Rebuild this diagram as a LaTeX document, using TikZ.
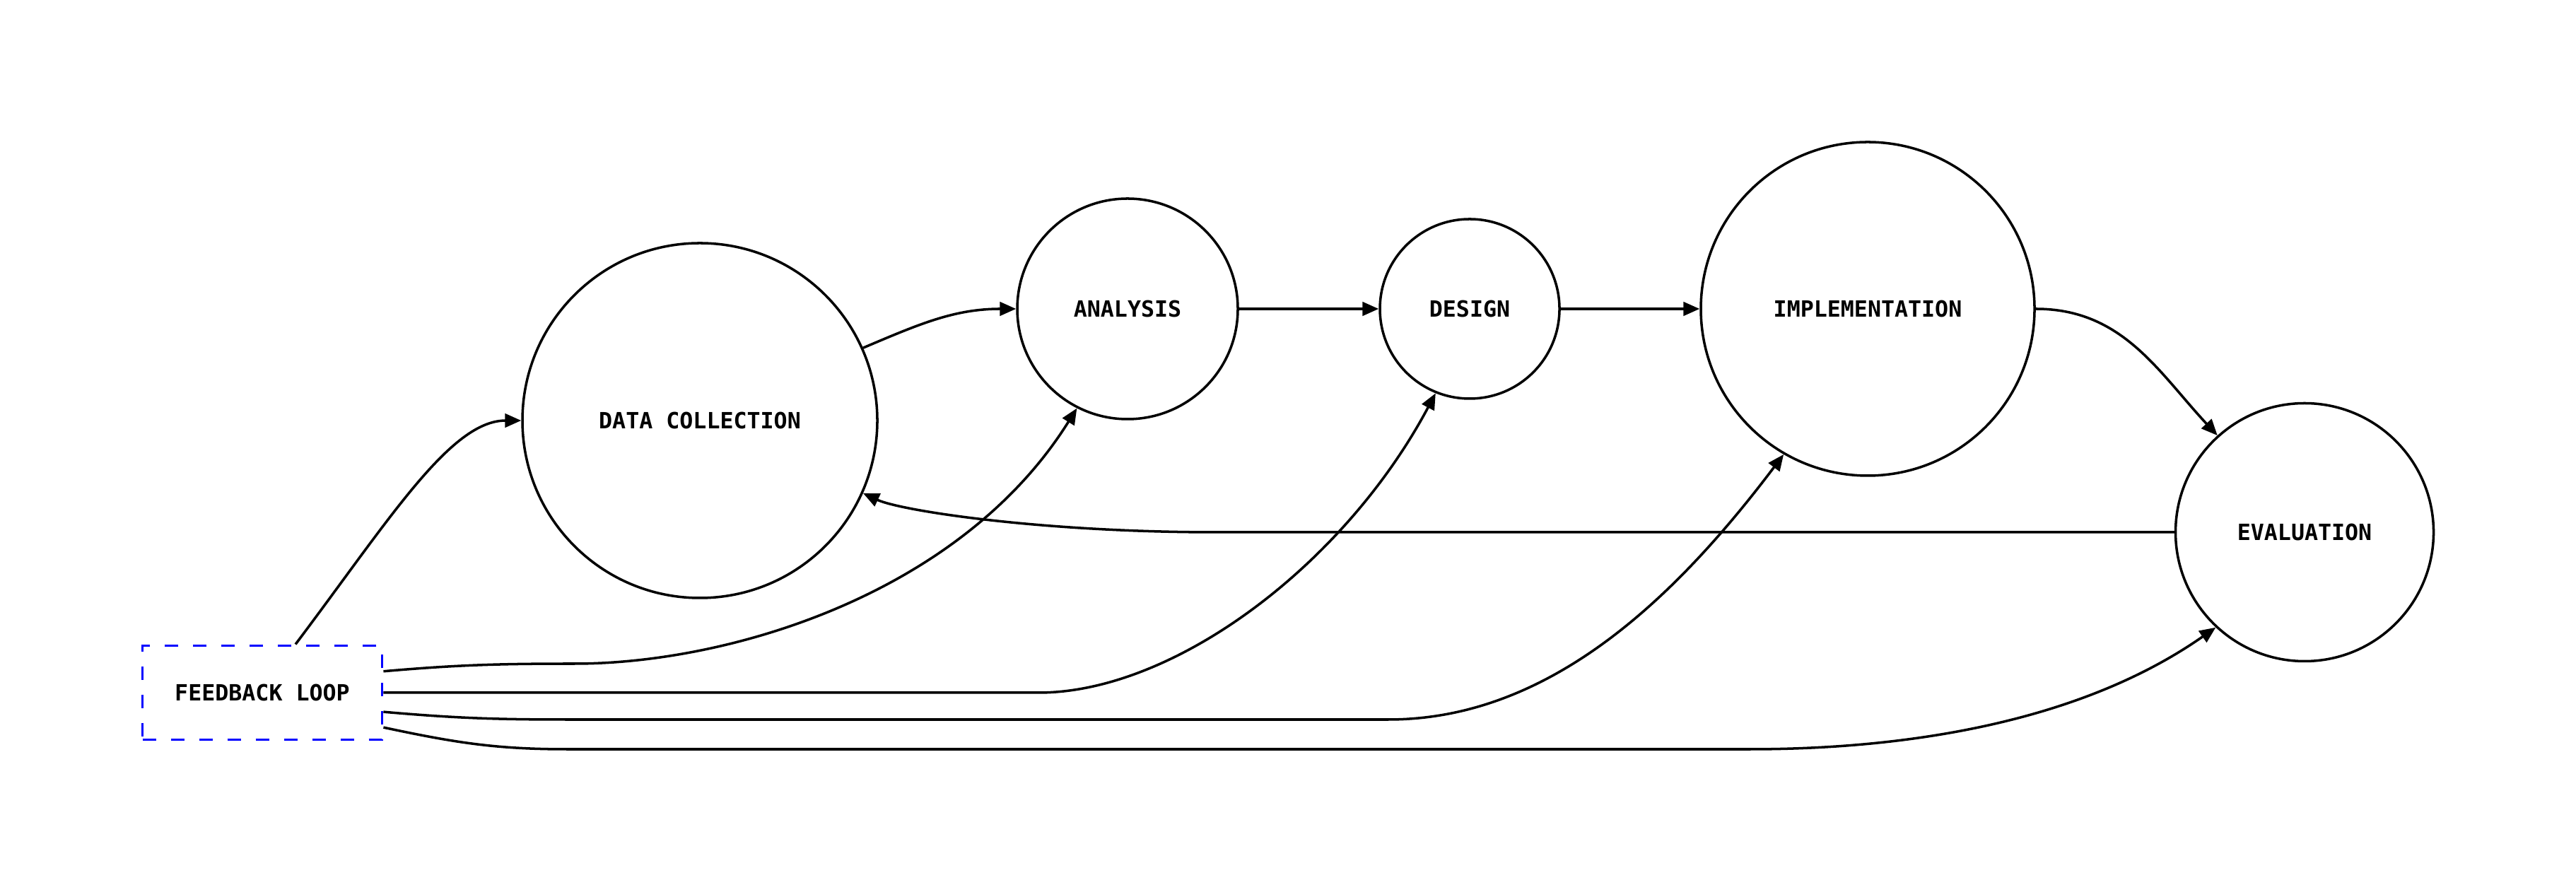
\documentclass[tikz,border=0pt]{standalone}
\usepackage{fontspec}
\setmonofont{DejaVu Sans Mono}
\usetikzlibrary{arrows.meta}

\begin{document}
\begin{tikzpicture}[font=\ttfamily\bfseries\fontsize{9pt}{11pt}\selectfont, line width=1pt,
        stage/.style={draw, circle, inner sep=0pt},
        link/.style={-{Triangle[length=6.5pt,width=5.5pt]}}]
    \useasboundingbox (0,0) rectangle (36.44,12.62);
    \node[stage, minimum size=5.02cm] (dc) at (9.90,6.67) {DATA COLLECTION};
    \node[stage, minimum size=3.12cm] (an) at (15.95,8.25) {ANALYSIS};
    \node[stage, minimum size=2.54cm] (de) at (20.79,8.25) {DESIGN};
    \node[stage, minimum size=4.72cm] (im) at (26.42,8.25) {IMPLEMENTATION};
    \node[stage, minimum size=3.65cm] (ev) at (32.60,5.09) {EVALUATION};
    \node[draw=blue, line width=1.1pt, dash pattern=on 0.19cm off 0.21cm, minimum width=3.39cm, minimum height=1.33cm] (fb) at (3.71,2.82) {FEEDBACK LOOP};
    \draw[link] ([xshift=0.47cm]fb.north) to[out=53, in=180, out looseness=1.25, in looseness=0.57] (dc.west);
    \draw[link] (dc.24) to[out=23, in=180] (an.west);
    \draw[link] (an) -- (de);
    \draw[link] (de) -- (im);
    \draw[link] (im.east) to[out=0, in=133] (ev.132);
    \draw[link] (ev.west) -- (17.20,5.09) to[out=180, in=-25, out looseness=1.26, in looseness=0.3] (dc.-24);
    \draw[link] (fb.10) to[out=5, in=180] (8.13,3.23) to[out=0, in=-122, out looseness=0.7] (an.-117);
    \draw[link] (fb.east) -- (14.69,2.82) to[out=0, in=-118, out looseness=0.7] (de.-112);
    \draw[link] (fb.-9) to[out=-5, in=180] (8.02,2.44) -- (19.64,2.44) to[out=0, in=-127, out looseness=0.85] (im.-120);
    \draw[link] (fb.-16) to[out=-12, in=180] (8.02,2.02) -- (24.75,2.02) to[out=0, in=-145, out looseness=0.6] (ev.-133);
\end{tikzpicture}
\end{document}
